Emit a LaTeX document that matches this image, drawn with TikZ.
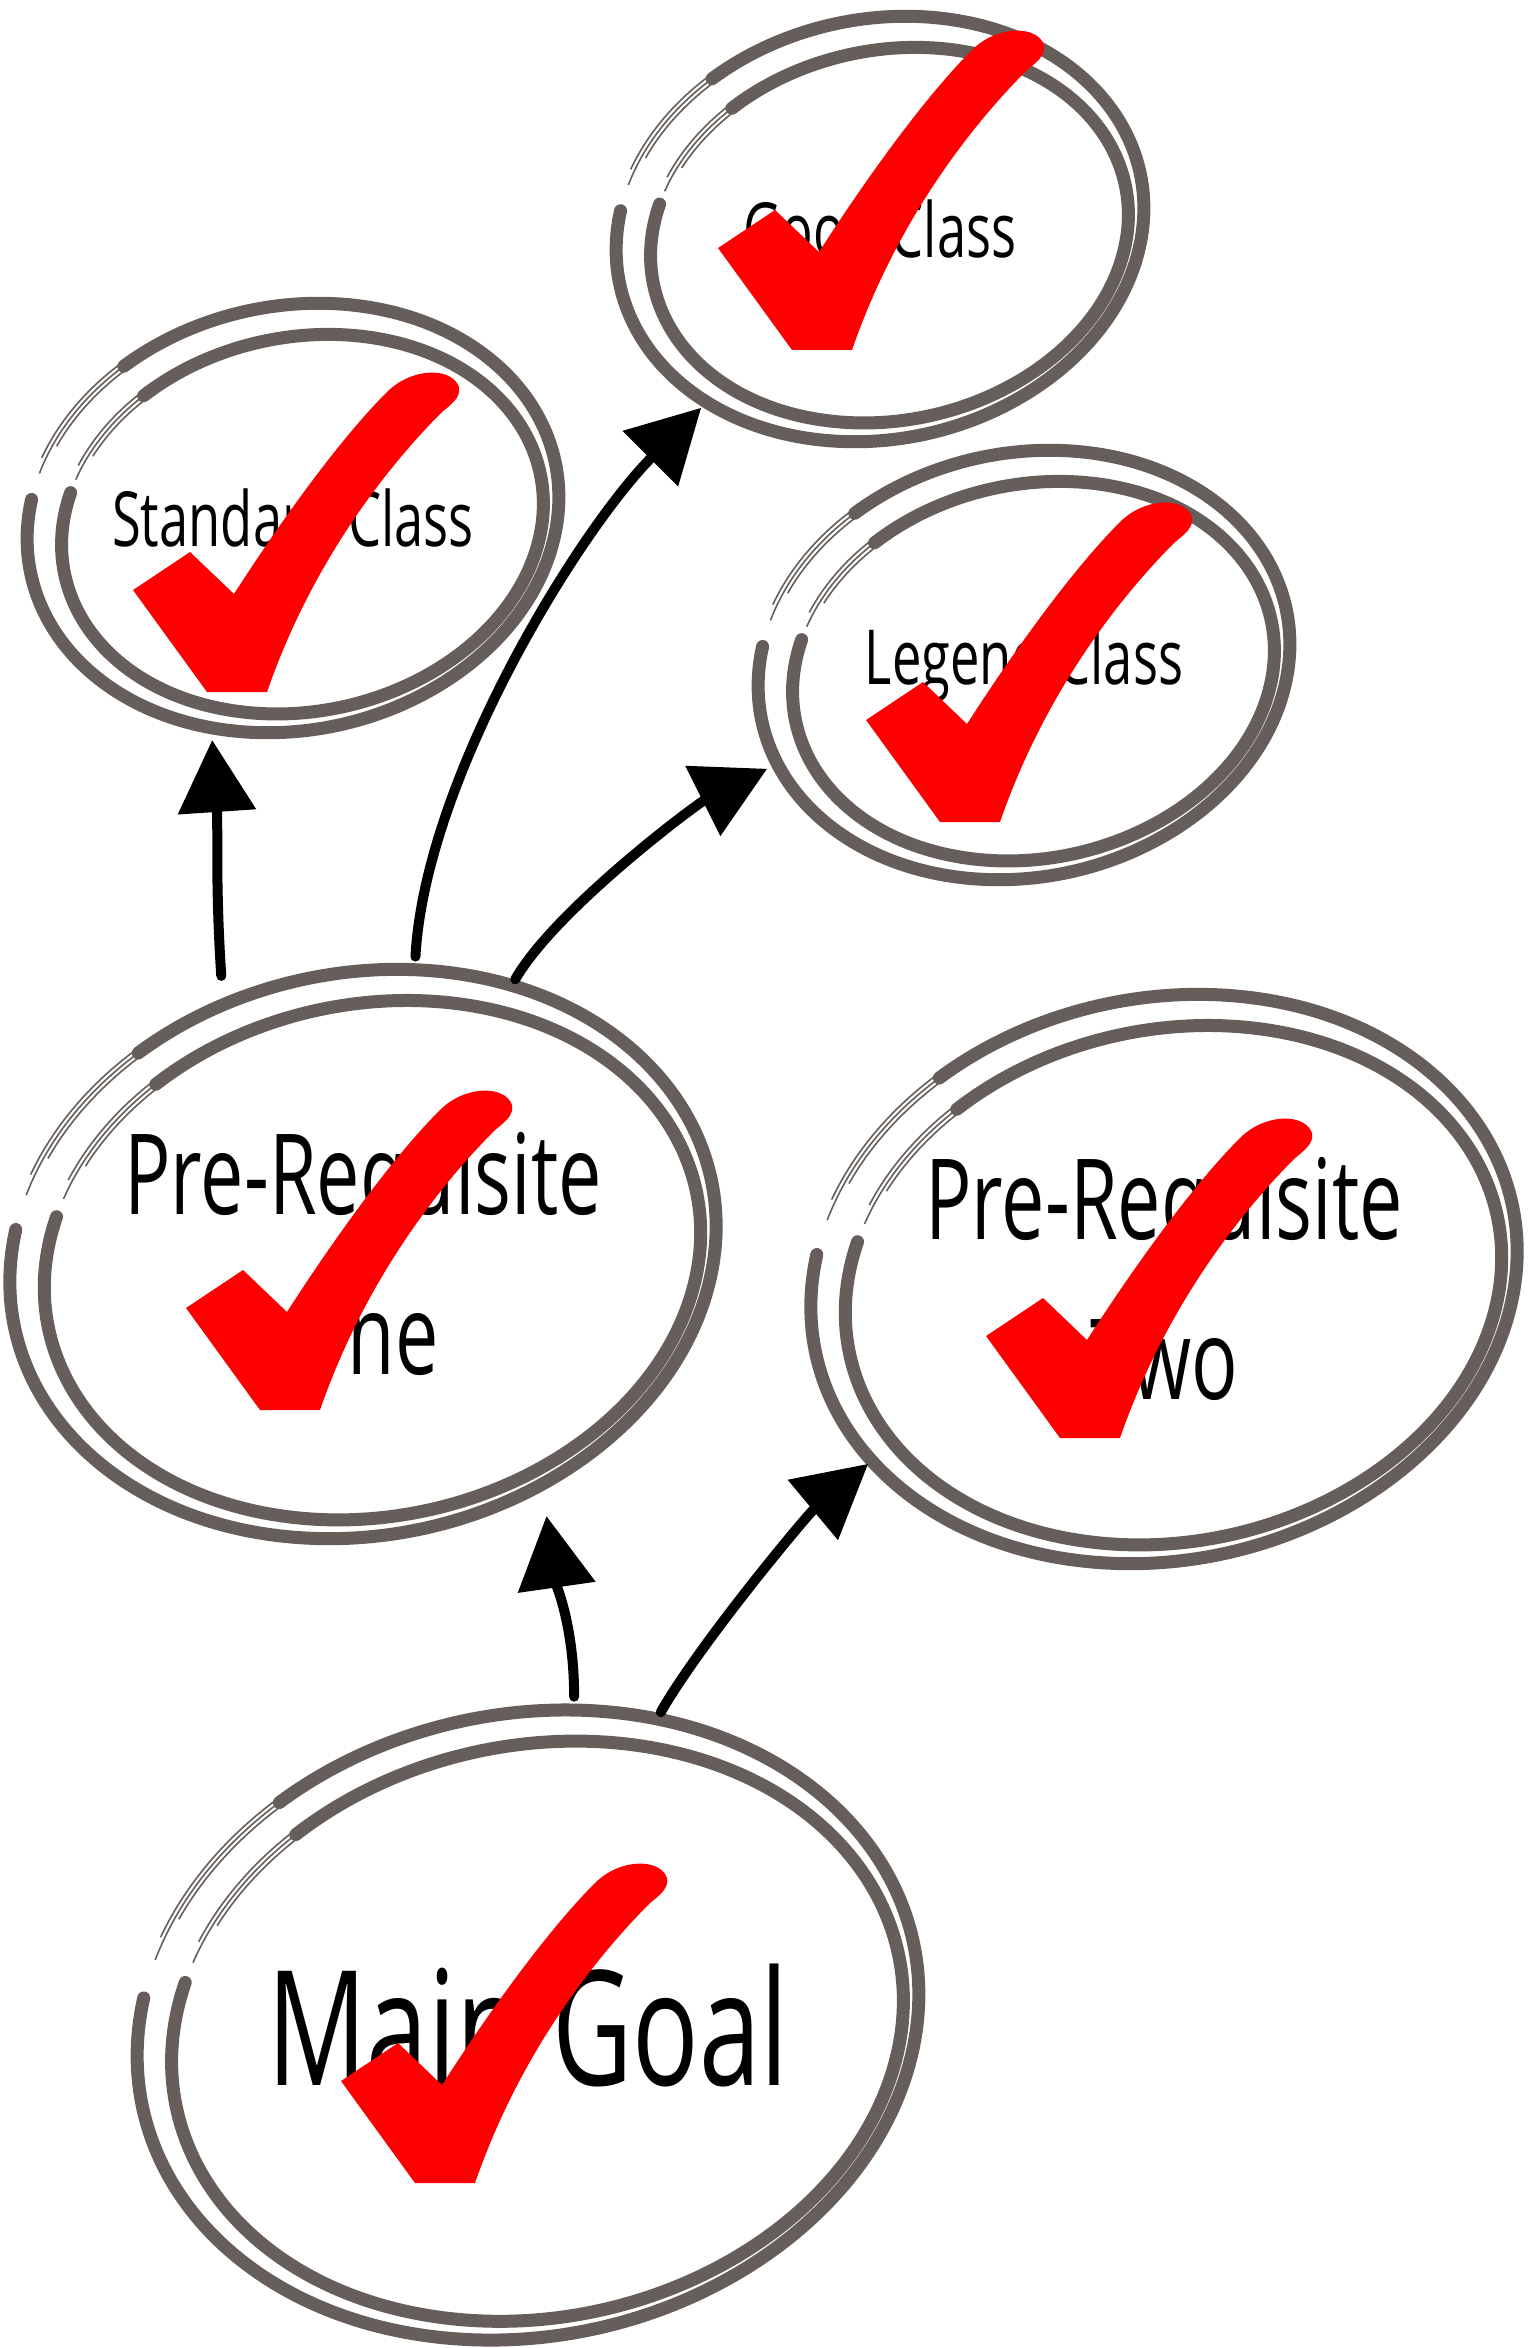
\documentclass[tikz,border=0pt]{standalone}
\usepackage{fontspec}
\newfontfamily\sketchfont[FakeStretch=0.69]{Open Sans}
\usetikzlibrary{shapes.geometric,arrows.meta,calc}

\definecolor{ringgray}{RGB}{101,94,90}
\definecolor{tickred}{RGB}{255,0,0}

\tikzset{
  bubble/.style={ellipse,inner sep=0pt,align=center,text=black},
  smalllabel/.style={font=\sketchfont\fontsize{38}{46}\selectfont},
  midlabel/.style={font=\sketchfont\fontsize{56}{80}\selectfont},
  biglabel/.style={font=\sketchfont\fontsize{80}{96}\selectfont},
  ring/.style={draw=ringgray,line width=6.5pt,line cap=round},
  ringhair/.style={draw=ringgray,line width=0.8pt},
  tick/.style={fill=tickred},
  brush/.style={draw=black,line width=5pt,line cap=round,-{Triangle[length=36pt,width=38pt]}}
}

% double hand-drawn ring round a node: node, x radius, y radius
\newcommand{\sketchring}[3]{%
  \begin{scope}[shift={(#1.center)},rotate=-12]
    \draw[ring] (xyz polar cs:angle=200,x radius=#2,y radius=#3)
      arc[start angle=200,end angle=-120,x radius=#2,y radius=#3];
    \foreach \h/\e in {-4/-145,0/-153,4/-149}{
      \pgfmathsetmacro\ra{#2+\h}\pgfmathsetmacro\rb{#3+\h}
      \draw[ringhair] (xyz polar cs:angle=-118,x radius=\ra,y radius=\rb)
        arc[start angle=-118,end angle=\e,x radius=\ra,y radius=\rb];
    }
    \begin{scope}[shift={(8,8)}]
      \pgfmathsetmacro\ia{#2-25}\pgfmathsetmacro\ib{#3-25}
      \draw[ring] (xyz polar cs:angle=205,x radius=\ia,y radius=\ib)
        arc[start angle=205,end angle=-122,x radius=\ia,y radius=\ib];
      \foreach \h/\e in {-4/-143,0/-151,4/-147}{
        \pgfmathsetmacro\ra{#2-25+\h}\pgfmathsetmacro\rb{#3-25+\h}
        \draw[ringhair] (xyz polar cs:angle=-120,x radius=\ra,y radius=\rb)
          arc[start angle=-120,end angle=\e,x radius=\ra,y radius=\rb];
      }
    \end{scope}
  \end{scope}}

% red tick: node, dx, dy of the tick's foot
\newcommand{\redtick}[3]{%
  \fill[tick,shift={($(#1.center)+(#2,#3)$)}] (-30,0) -- (-104,-102) -- (-47,-140) -- (-3,-98)
    .. controls (40,-165) and (100,-250) .. (150,-300)
    .. controls (175,-325) and (215,-325) .. (222,-305)
    .. controls (224,-295) and (215,-288) .. (205,-280)
    .. controls (150,-225) and (75,-130) .. (30,0) -- cycle;}

\begin{document}
\begin{tikzpicture}[x=0.5pt,y=0.5pt,yscale=-1,xscale=1]
\useasboundingbox (0,0) rectangle (1536,2348);

%Shape: Ellipse [good]
\node[bubble,smalllabel,minimum width=285pt,minimum height=229pt] (good) at (880,229) {Good Class};
%Shape: Ellipse [std]
\node[bubble,smalllabel,minimum width=287pt,minimum height=231pt] (std) at (293,518) {Standard Class};
%Shape: Ellipse [legend]
\node[bubble,smalllabel,minimum width=287pt,minimum height=231pt] (legend) at (1024,665) {Legend Class};
%Shape: Ellipse [one]
\node[bubble,midlabel,minimum width=375pt,minimum height=300pt] (one) at (363,1254) {Pre-Requisite\\One};
%Shape: Ellipse [two]
\node[bubble,midlabel,minimum width=375pt,minimum height=300pt] (two) at (1164,1279) {Pre-Requisite\\Two};
%Shape: Ellipse [main]
\node[bubble,biglabel,minimum width=413pt,minimum height=330pt] (main) at (528,2025) {Main Goal};

%Rings
\sketchring{good}{266}{210}
\sketchring{std}{268}{212}
\sketchring{legend}{268}{212}
\sketchring{one}{356}{281}
\sketchring{two}{356}{281}
\sketchring{main}{394}{311}

%Ticks
\redtick{good}{-58}{121}
\redtick{std}{-56}{174}
\redtick{legend}{-54}{157}
\redtick{one}{-73}{156}
\redtick{two}{-74}{159}
\redtick{main}{-83}{158}

%Curve Lines [one -> std]
\draw[brush] (one.117) .. controls +(-6,-90) and +(6,90) .. (std.250);
%Curve Lines [one -> good]
\draw[brush] (one.80) .. controls +(10,-180) and +(-120,120) .. (good.225);
%Curve Lines [one -> legend]
\draw[brush] (one.61) .. controls +(40,-70) and +(-70,35) .. (legend.202);
%Curve Lines [main -> one]
\draw[brush] (main.82) .. controls +(0,-70) and +(10,70) .. (one.305);
%Curve Lines [main -> two]
\draw[brush] (main.67) .. controls +(40,-70) and +(-60,50) .. (two.212);

\end{tikzpicture}
\end{document}
